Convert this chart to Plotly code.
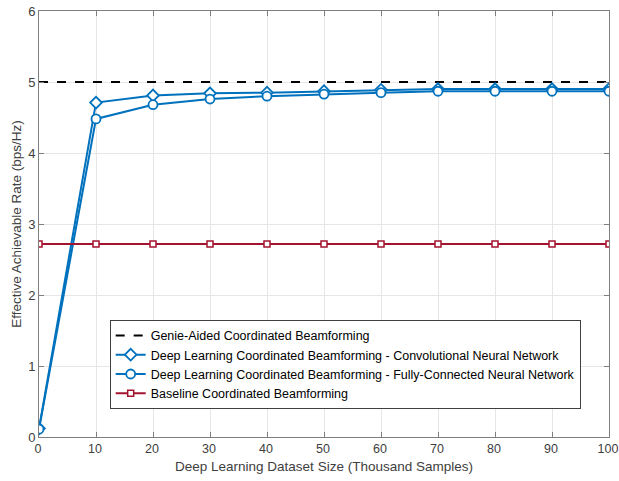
import plotly.graph_objects as go

x_vals = [0, 10, 20, 30, 40, 50, 60, 70, 80, 90, 100]
genie = [5.0] * 11
cnn = [0.12, 4.71, 4.81, 4.84, 4.85, 4.87, 4.89, 4.90, 4.90, 4.90, 4.90]
fcn = [0.11, 4.48, 4.68, 4.76, 4.80, 4.83, 4.85, 4.87, 4.87, 4.87, 4.87]
baseline = [2.72] * 11

names = [
    "Genie-Aided Coordinated Beamforming",
    "Deep Learning Coordinated Beamforming - Convolutional Neural Network",
    "Deep Learning Coordinated Beamforming - Fully-Connected Neural Network",
    "Baseline Coordinated Beamforming",
]

blue = "#0072BD"
red = "#A2142F"

fig = go.Figure()
fig.add_trace(go.Scatter(x=x_vals, y=genie, mode="lines", name=names[0],
                         line=dict(color="black", width=2, dash="dash")))
fig.add_trace(go.Scatter(x=x_vals, y=cnn, mode="lines+markers", name=names[1],
                         line=dict(color=blue, width=2),
                         marker=dict(symbol="diamond", size=9, color="white",
                                     line=dict(color=blue, width=1.8))))
fig.add_trace(go.Scatter(x=x_vals, y=fcn, mode="lines+markers", name=names[2],
                         line=dict(color=blue, width=2),
                         marker=dict(symbol="circle", size=9, color="white",
                                     line=dict(color=blue, width=1.8))))
fig.add_trace(go.Scatter(x=x_vals, y=baseline, mode="lines+markers", name=names[3],
                         line=dict(color=red, width=2),
                         marker=dict(symbol="square", size=6, color="white",
                                     line=dict(color=red, width=1.5))))

axis_common = dict(
    showgrid=True, gridcolor="#e6e6e6", gridwidth=1,
    showline=True, linecolor="#7f7f7f", linewidth=1, mirror="ticks",
    ticks="inside", ticklen=5, tickcolor="#7f7f7f",
    zeroline=False, ticklabeloverflow="allow", automargin=False,
)

fig.update_layout(
    width=619, height=481,
    margin=dict(l=39, r=10, t=11, b=44),
    paper_bgcolor="white", plot_bgcolor="white",
    font=dict(family="Liberation Sans, Arial", color="#404040"),
    xaxis=dict(range=[0, 100], tickvals=list(range(0, 101, 10)),
               tickfont=dict(family="Liberation Sans, Arial", size=12.5, color="#404040"),
               ticklabelshift=-1,
               title=dict(text="Deep Learning Dataset Size (Thousand Samples)",
                          font=dict(size=13.5, color="#404040"), standoff=6),
               **axis_common),
    yaxis=dict(range=[0, 6], tickvals=list(range(0, 7)),
               tickfont=dict(family="Liberation Sans, Arial", size=13, color="#404040"),
               title=dict(text="Effective Achievable Rate (bps/Hz)",
                          font=dict(size=13.5, color="#404040"), standoff=3),
               **axis_common),
    legend=dict(x=0.124, y=0.275, xanchor="left", yanchor="top",
                bgcolor="white", bordercolor="#404040", borderwidth=1,
                font=dict(size=12.5, color="black"),
                tracegroupgap=0, itemwidth=30),
    showlegend=True,
)

fig.write_html("out.html", config={"displayModeBar": False},
               post_script="document.body.style.margin='0';document.body.style.padding='0';")
